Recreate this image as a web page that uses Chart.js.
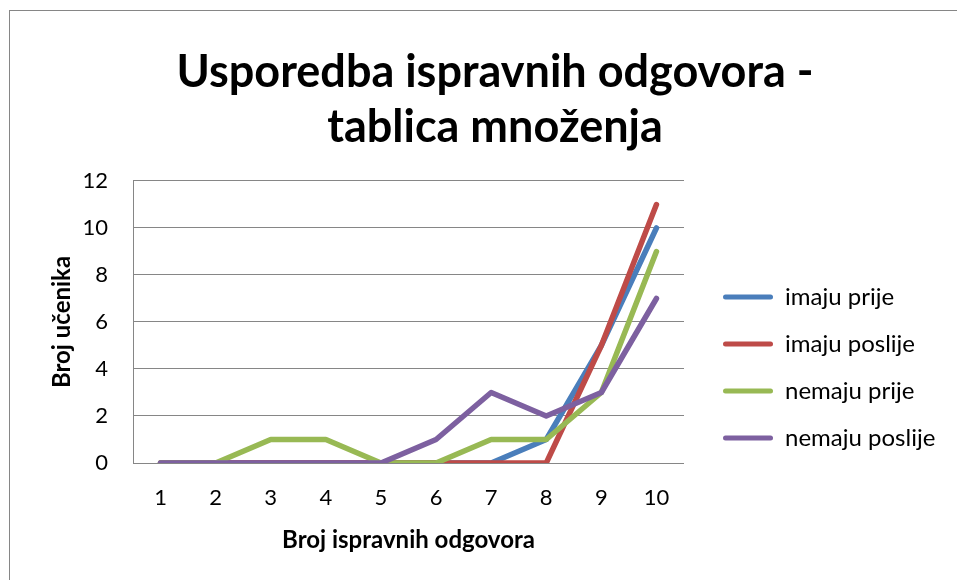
<!DOCTYPE html>
<html>
<head>
<meta charset="utf-8">
<script src="https://cdn.jsdelivr.net/npm/chart.js@4.4.1/dist/chart.umd.min.js"></script>
<style>
  html, body { margin: 0; padding: 0; background: #fff; overflow: hidden; }
  #frame { position: absolute; left: 9px; top: 10px; width: 1000px; height: 1000px; border: 1px solid #868686; }
  #wrap { position: absolute; left: 0; top: 0; width: 980px; height: 580px; }
</style>
</head>
<body>
<div id="frame"></div>
<div id="wrap"><canvas id="myChart"></canvas></div>
<script>
// podaci s grafa
var categories = ['1', '2', '3', '4', '5', '6', '7', '8', '9', '10'];
var imajuPrije = [0, 0, 0, 0, 0, 0, 0, 1, 5, 10];
var imajuPoslije = [0, 0, 0, 0, 0, 0, 0, 0, 5, 11];
var nemajuPrije = [0, 0, 1, 1, 0, 0, 1, 1, 3, 9];
var nemajuPoslije = [0, 0, 0, 0, 0, 1, 3, 2, 3, 7];
var yMin = 0, yMax = 12, yStep = 2;

var fontName = 'Lato';
var gridColor = '#868686';

function series(label, values, color, order) {
  return {
    label: label,
    data: values,
    borderColor: color,
    backgroundColor: color,
    borderWidth: 5.5,
    borderCapStyle: 'round',
    borderJoinStyle: 'round',
    pointRadius: 0,
    pointHoverRadius: 0,
    tension: 0,
    fill: false,
    order: order
  };
}

// legenda: fiksna sirina desnog dijela i mali pomak udesno
var legendPlacement = {
  id: 'legendPlacement',
  afterInit: function (chart) {
    var lg = chart.legend;
    var fit = lg.fit;
    lg.fit = function () {
      fit.call(this);
      this.width = 296;
    };
  },
  afterLayout: function (chart) {
    chart.legend.left += 16;
    chart.legend.right += 16;
  }
};

var ctx = document.getElementById('myChart').getContext('2d');
var chart = new Chart(ctx, {
  type: 'line',
  data: {
    labels: categories,
    datasets: [
      series('imaju prije', imajuPrije, '#4A7EBB', 4),
      series('imaju poslije', imajuPoslije, '#BE4B48', 3),
      series('nemaju prije', nemajuPrije, '#98B954', 2),
      series('nemaju poslije', nemajuPoslije, '#7D60A0', 1)
    ]
  },
  plugins: [legendPlacement],
  options: {
    responsive: true,
    maintainAspectRatio: false,
    devicePixelRatio: 1,
    animation: false,
    layout: { padding: { left: 10, top: 0, right: 0, bottom: 0 } },
    plugins: {
      title: {
        display: true,
        text: ['Usporedba ispravnih odgovora -', 'tablica množenja'],
        color: '#000',
        font: { family: fontName, size: 45, weight: 'bold', lineHeight: 1.222 },
        padding: { top: 45, bottom: 26 }
      },
      legend: {
        position: 'right',
        align: 'center',
        title: { display: true, text: ' ', font: { size: 10, lineHeight: 1 }, padding: { top: 145, bottom: 0 } },
        labels: {
          boxWidth: 50,
          boxHeight: 5,
          padding: 23,
          color: '#000',
          useBorderRadius: true,
          borderRadius: 2.5,
          font: { family: fontName, size: 24 },
          generateLabels: function (chart) {
            var items = Chart.defaults.plugins.legend.labels.generateLabels(chart);
            items.forEach(function (it) { it.lineWidth = 0; });
            items.sort(function (a, b) { return a.datasetIndex - b.datasetIndex; });
            return items;
          }
        }
      },
      tooltip: { enabled: false }
    },
    scales: {
      x: {
        type: 'category',
        offset: true,
        grid: { display: false, drawTicks: false },
        border: { display: false },
        ticks: { color: '#000', font: { family: fontName, size: 22 }, padding: 22, autoSkip: false, maxRotation: 0 },
        title: { display: true, text: 'Broj ispravnih odgovora', color: '#000', font: { family: fontName, size: 24, weight: 'bold' }, padding: { top: 0, bottom: 25.6 } },
        afterFit: function (s) { s.height = 117; }
      },
      y: {
        min: yMin,
        max: yMax,
        grid: { color: gridColor, lineWidth: 1, drawTicks: false },
        border: { display: true, color: gridColor, width: 1 },
        ticks: { stepSize: yStep, color: '#000', font: { family: fontName, size: 22 }, padding: 25 },
        title: { display: true, text: 'Broj učenika', color: '#000', font: { family: fontName, size: 24, weight: 'bold' }, padding: { top: 37.6, bottom: 0 } },
        afterFit: function (s) { s.width = 123; }
      }
    }
  }
});
</script>
</body>
</html>
